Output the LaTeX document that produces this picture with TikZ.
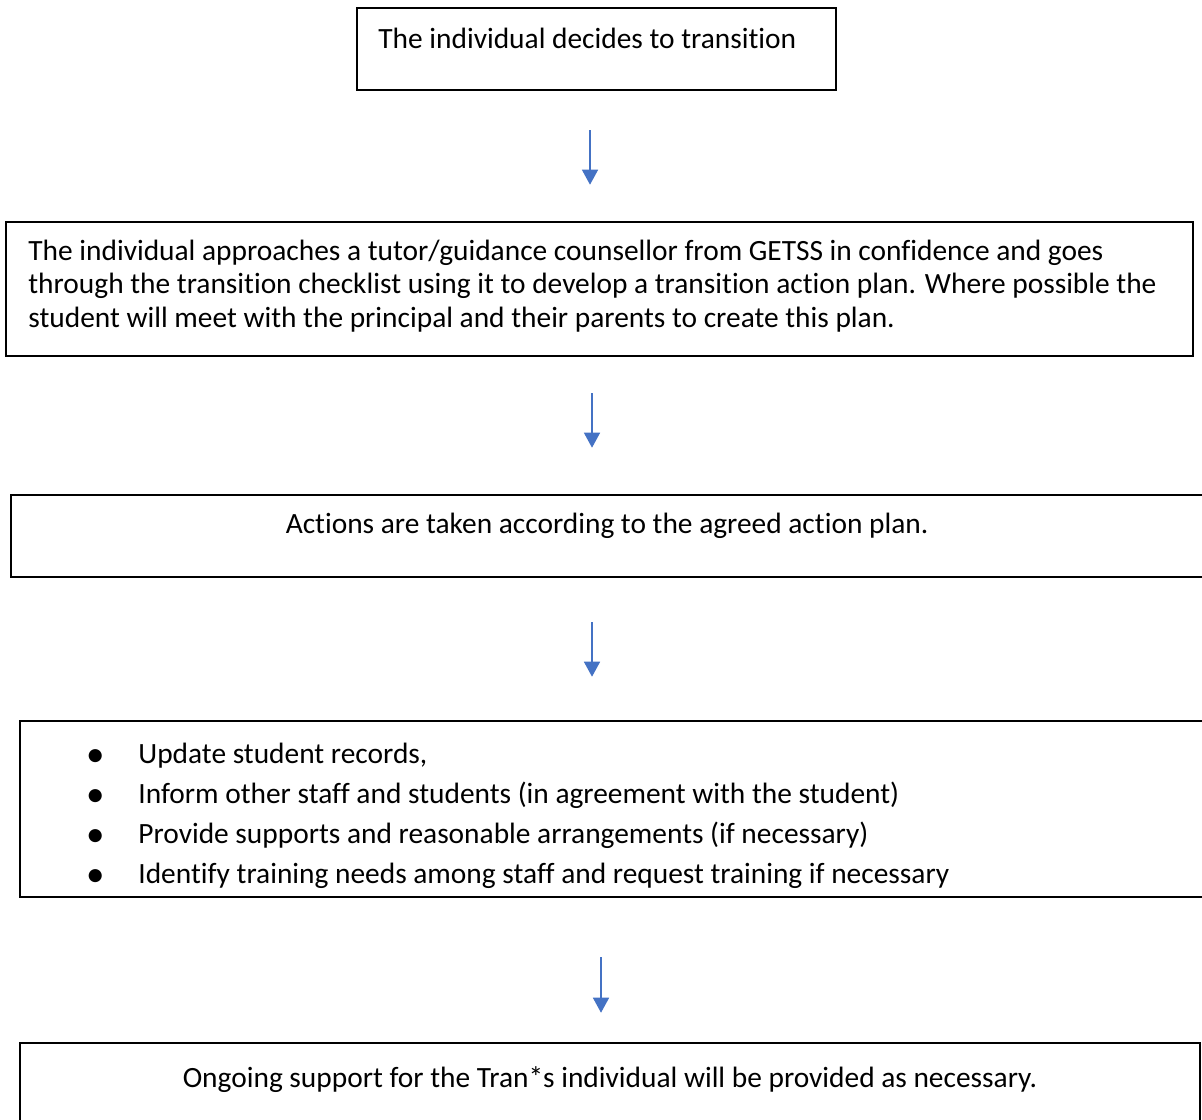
\documentclass[tikz,border=0pt]{standalone}
\usepackage{fontspec}
\setmainfont{Carlito}[Ligatures={NoCommon}]
\usetikzlibrary{arrows.meta,fit,calc}
\definecolor{arrowblue}{HTML}{4472C4}
\newcommand{\bigbul}{\makebox[43pt]{\raisebox{-1.5pt}{\fontsize{18.5}{20}\selectfont\textbullet}}}
\tikzset{
  box/.style={draw=black, line width=1.3pt, inner sep=0pt, fill=white},
  arr/.style={draw=arrowblue, line width=0.75pt, -{Triangle[width=8pt,length=7.5pt]}},
  txt/.style={inner sep=0pt, font=\fontsize{14.7}{16.75}\selectfont, text=black}
}
\begin{document}
\begin{tikzpicture}[x=0.5pt,y=-0.5pt]
\useasboundingbox (0,0) rectangle (1202,1119);
\clip (0,0) rectangle (1202,1119);
\fill[white] (0,0) rectangle (1202,1119);
% boxes
\node[box, fit={(357,8) (836,90)}] (b1) {};
\node[box, fit={(6,222) (1193,356)}] (b2) {};
\node[box, fit={(11,495) (1215,577)}] (b3) {};
\node[box, fit={(20,721) (1215,897)}] (b4) {};
\node[box, fit={(20,1043) (1200,1135)}] (b5) {};
% texts
\node[txt, anchor=base west] (t1) at (378,48) {The individual decides to transition};
\node[txt, anchor=base west, align=left] (t2) at (28,327) {The individual approaches a tutor/guidance counsellor from GETSS in confidence and goes\\through the transition checklist using it to develop a transition action plan. Where possible the\\student will meet with the principal and their parents to create this plan.};
\node[txt, anchor=base] (t3) at (607,533) {Actions are taken according to the agreed action plan.};
\node[txt, anchor=base west, align=left, font=\fontsize{14.7}{20}\selectfont] (t4) at (52,883) {\bigbul Update student records,\\\bigbul Inform other staff and students (in agreement with the student)\\\bigbul Provide supports and reasonable arrangements (if necessary)\\\bigbul Identify training needs among staff and request training if necessary};
\node[txt, anchor=base] (t5) at (610,1087) {Ongoing support for the Tran*s individual will be provided as necessary.};
% arrows
\draw[arr] ($(b1.south)+(-6.5,39)$) -- ($(b2.north)+(-9.5,-36)$);
\draw[arr] ($(b2.south)+(-7.5,36)$) -- ($(b3.north)+(-21,-46)$);
\draw[arr] ($(b3.south)+(-21,44)$) -- ($(b4.north)+(-25.5,-43)$);
\draw[arr] ($(b4.south)+(-16.5,59)$) -- ($(b5.north)+(-9,-29)$);
\end{tikzpicture}
\end{document}
